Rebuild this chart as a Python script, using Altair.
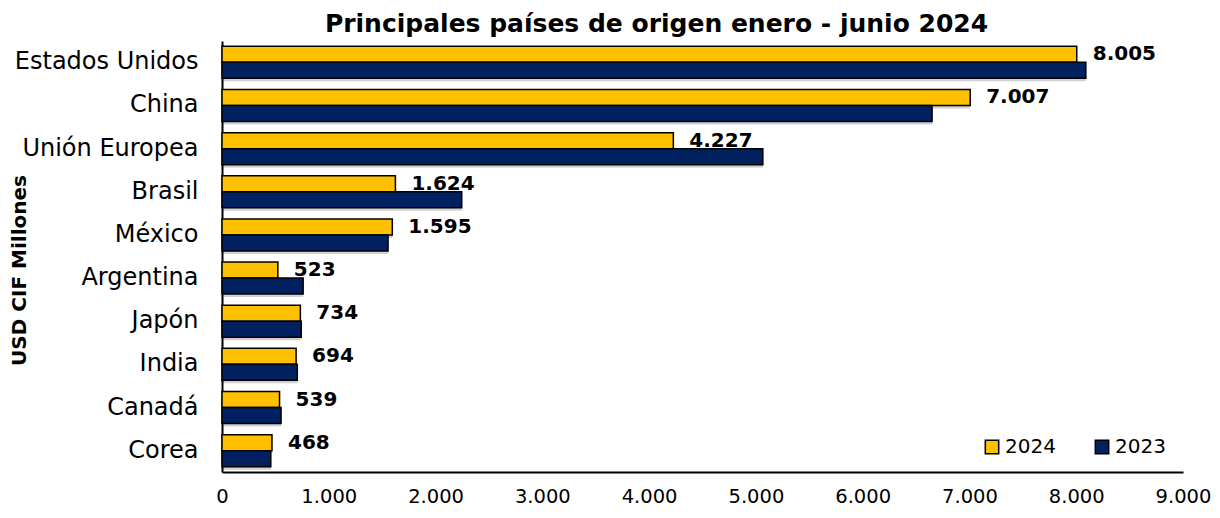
import altair as alt
import pandas as pd

paises = ["Estados Unidos", "China", "Unión Europea", "Brasil", "México",
          "Argentina", "Japón", "India", "Canadá", "Corea"]
v2024 = [8005, 7007, 4227, 1624, 1595, 523, 734, 694, 539, 468]
v2023 = [8090, 6650, 5065, 2245, 1555, 760, 742, 705, 553, 457]
series = ["2024", "2023"]
colores = ["#FFC000", "#002060"]
x_ticks = [0, 1000, 2000, 3000, 4000, 5000, 6000, 7000, 8000, 9000]

rows = []
for p, a, b in zip(paises, v2024, v2023):
    rows.append({"pais": p, "serie": "2024", "valor": a})
    rows.append({"pais": p, "serie": "2023", "valor": b})
df = pd.DataFrame(rows)

FONT = "DejaVu Sans"
BAR = 16

x_enc = alt.X("valor:Q",
              scale=alt.Scale(domain=[0, 9000], nice=False),
              axis=alt.Axis(values=x_ticks, title=None, grid=False, ticks=False,
                            labelExpr="replace(format(datum.value, ',d'), ',', '.')",
                            labelFontSize=19.5, labelPadding=15, labelColor="#000",
                            labelFont=FONT, domainColor="#000", domainWidth=2,
                            labelFlush=False))
y_enc = alt.Y("pais:N", sort=paises,
              scale=alt.Scale(paddingInner=0.25, paddingOuter=0.12),
              axis=alt.Axis(title="USD CIF Millones", titleFontSize=20,
                            titleFontWeight="bold", titleFont=FONT, titleColor="#000",
                            titleX=-203, titleY=229, titleAngle=270,
                            titleBaseline="middle", titleAlign="center",
                            labelFontSize=24, labelFont=FONT, labelLimit=400,
                            labelColor="#000", labelPadding=24, ticks=False,
                            domainColor="#000", domainWidth=2, grid=False))
color_enc = alt.Color("serie:N",
                      scale=alt.Scale(domain=series, range=colores),
                      legend=alt.Legend(title=None, orient="none", legendX=760,
                                        legendY=396, direction="horizontal",
                                        symbolType="square", symbolSize=180,
                                        symbolStrokeColor="#000",
                                        symbolStrokeWidth=1.5,
                                        labelFontSize=20, labelFont=FONT,
                                        labelColor="#000", columnPadding=36,
                                        symbolOffset=0, labelOffset=3))

base = alt.Chart(df)

def shadow(serie, off):
    return base.transform_filter(alt.datum.serie == serie).mark_bar(
        size=BAR, yOffset=off + 3, xOffset=0, x2Offset=4, color="#000",
        opacity=0.18).encode(x=x_enc, y=y_enc)

def bars(serie, off):
    return base.transform_filter(alt.datum.serie == serie).mark_bar(
        size=BAR, yOffset=off, stroke="#000", strokeWidth=1.5).encode(
        x=x_enc, y=y_enc, color=color_enc)

labels = base.transform_filter(alt.datum.serie == "2024").transform_calculate(
    txt="replace(format(datum.valor, ',d'), ',', '.')"
).mark_text(align="left", baseline="middle", dx=16, yOffset=-8,
            fontSize=20, fontWeight="bold", font=FONT, color="#000").encode(
    x="valor:Q", y=alt.Y("pais:N", sort=paises), text="txt:N")

chart = alt.layer(
    shadow("2024", -8), shadow("2023", 8),
    bars("2024", -8), bars("2023", 8),
    labels
).properties(
    width=961, height=431,
    title=alt.Title("Principales países de origen enero - junio 2024",
                    fontSize=25, fontWeight="bold", font=FONT, color="#000",
                    offset=4, dx=-46),
    padding={"left": 214, "top": 33, "right": 29, "bottom": 38},
    autosize=alt.AutoSizeParams(type="none")
).configure(background="white", view=alt.ViewConfig(strokeWidth=0, stroke="transparent"))

chart.save("out.html", embed_options={"renderer": "svg", "actions": False})
